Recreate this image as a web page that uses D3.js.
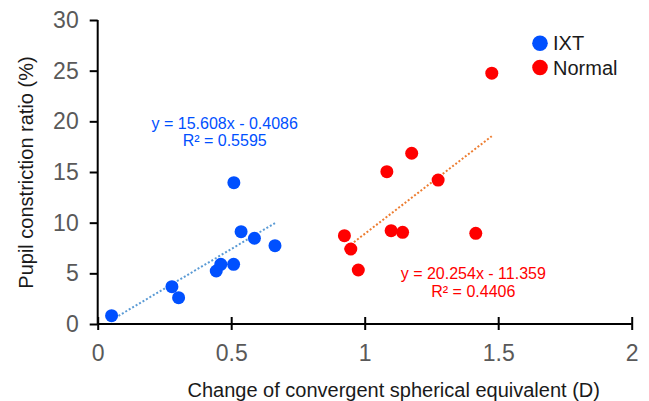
<!DOCTYPE html>
<html>
<head>
<meta charset="utf-8">
<script src="https://cdn.jsdelivr.net/npm/d3@7"></script>
<style>
  body { margin: 0; background: #fff; }
  text { font-family: Arial, "Liberation Sans", sans-serif; }
</style>
</head>
<body>
<svg id="chart" width="649" height="401"></svg>
<script>
// IXT group: change of convergent SE (D) vs pupil constriction ratio (%)
const ixtX = [0.052, 0.278, 0.303, 0.444, 0.461, 0.509, 0.510, 0.537, 0.587, 0.664];
const ixtY = [0.82, 3.68, 2.60, 5.23, 5.89, 5.89, 13.95, 9.11, 8.46, 7.73];

// Normal group
const normX = [0.924, 0.948, 0.976, 1.083, 1.099, 1.142, 1.176, 1.275, 1.416, 1.476];
const normY = [8.72, 7.40, 5.33, 15.03, 9.21, 9.05, 16.85, 14.20, 8.95, 24.75];

// trendlines as reported on the chart
const ixtFit = { slope: 15.608, intercept: -0.4086, r2: '0.5595' };
const normFit = { slope: 20.254, intercept: -11.359, r2: '0.4406' };

const xTicks = [0, 0.5, 1, 1.5, 2];
const yTicks = [0, 5, 10, 15, 20, 25, 30];

const svg = d3.select('#chart');

const x = d3.scaleLinear().domain([0, 2]).range([97.7, 631.7]);
const y = d3.scaleLinear().domain([0, 30]).range([324, 20]);

const blue = '#0050ff';
const red = '#ff0000';

// y axis
const yAxis = svg.append('g')
  .attr('transform', `translate(${x(0)},0)`)
  .call(d3.axisLeft(y).tickValues(yTicks).tickSize(8).tickPadding(11).tickFormat(d3.format('d')));

// x axis (ticks cross the line)
const xAxis = svg.append('g')
  .attr('transform', `translate(0,${y(0)})`)
  .call(d3.axisBottom(x).tickValues(xTicks).tickSize(6).tickPadding(15).tickFormat(d => d));

xAxis.selectAll('.tick line').attr('y1', -7).attr('y2', 6);

[xAxis, yAxis].forEach(ax => {
  ax.select('.domain').attr('stroke', '#000').attr('stroke-width', 2);
  ax.selectAll('.tick line').attr('stroke', '#000').attr('stroke-width', 2);
  ax.selectAll('.tick text')
    .attr('fill', '#595959')
    .style('font-size', '23px')
    .style('font-family', 'Arial, "Liberation Sans", sans-serif');
});
yAxis.select('.domain').attr('d', `M0,${y(30)}V${y(0)}`);
xAxis.select('.domain').attr('d', `M${x(0)},0H${x(2)}`);

// trendlines, drawn over the data range of each group
function trend(xs, fit, color) {
  const x1 = d3.min(xs), x2 = d3.max(xs);
  svg.append('line')
    .attr('x1', x(x1)).attr('y1', y(fit.slope * x1 + fit.intercept))
    .attr('x2', x(x2)).attr('y2', y(fit.slope * x2 + fit.intercept))
    .attr('stroke', color)
    .attr('stroke-width', 2)
    .attr('stroke-dasharray', '2,2');
}
trend(ixtX, ixtFit, '#5b9bd5');
trend(normX, normFit, '#ed7d31');

// points
function dots(xs, ys, color) {
  svg.append('g')
    .selectAll('circle')
    .data(xs.map((d, i) => [d, ys[i]]))
    .enter().append('circle')
    .attr('cx', d => x(d[0]))
    .attr('cy', d => y(d[1]))
    .attr('r', 6.5)
    .attr('fill', color);
}
dots(ixtX, ixtY, blue);
dots(normX, normY, red);

// trendline equations
function equation(fit, cx, by, color) {
  const sign = fit.intercept < 0 ? '-' : '+';
  const g = svg.append('g').attr('fill', color).style('font-size', '16px').attr('text-anchor', 'middle');
  g.append('text').attr('x', cx).attr('y', by)
    .text(`y = ${fit.slope}x ${sign} ${Math.abs(fit.intercept)}`);
  g.append('text').attr('x', cx).attr('y', by + 17.5)
    .text(`R² = ${fit.r2}`);
}
equation(ixtFit, 224.7, 128.5, blue);
equation(normFit, 473.3, 279.3, red);

// legend
const legendItems = [{ name: 'IXT', color: blue }, { name: 'Normal', color: red }];
const legend = svg.append('g')
  .selectAll('g')
  .data(legendItems)
  .enter().append('g')
  .attr('transform', (d, i) => `translate(540,${43.3 + i * 24.2})`);
legend.append('circle').attr('r', 7.8).attr('fill', d => d.color);
legend.append('text')
  .attr('x', 13).attr('y', 7)
  .attr('fill', '#1a1a1a')
  .style('font-size', '20px')
  .text(d => d.name);

// axis titles
svg.append('text')
  .attr('x', 393.7).attr('y', 397)
  .attr('text-anchor', 'middle')
  .attr('fill', '#1a1a1a')
  .style('font-size', '20px')
  .text('Change of convergent spherical equivalent (D)');

svg.append('text')
  .attr('transform', 'translate(33,172.5) rotate(-90)')
  .attr('text-anchor', 'middle')
  .attr('fill', '#1a1a1a')
  .style('font-size', '20px')
  .text('Pupil constriction ratio (%)');
</script>
</body>
</html>
